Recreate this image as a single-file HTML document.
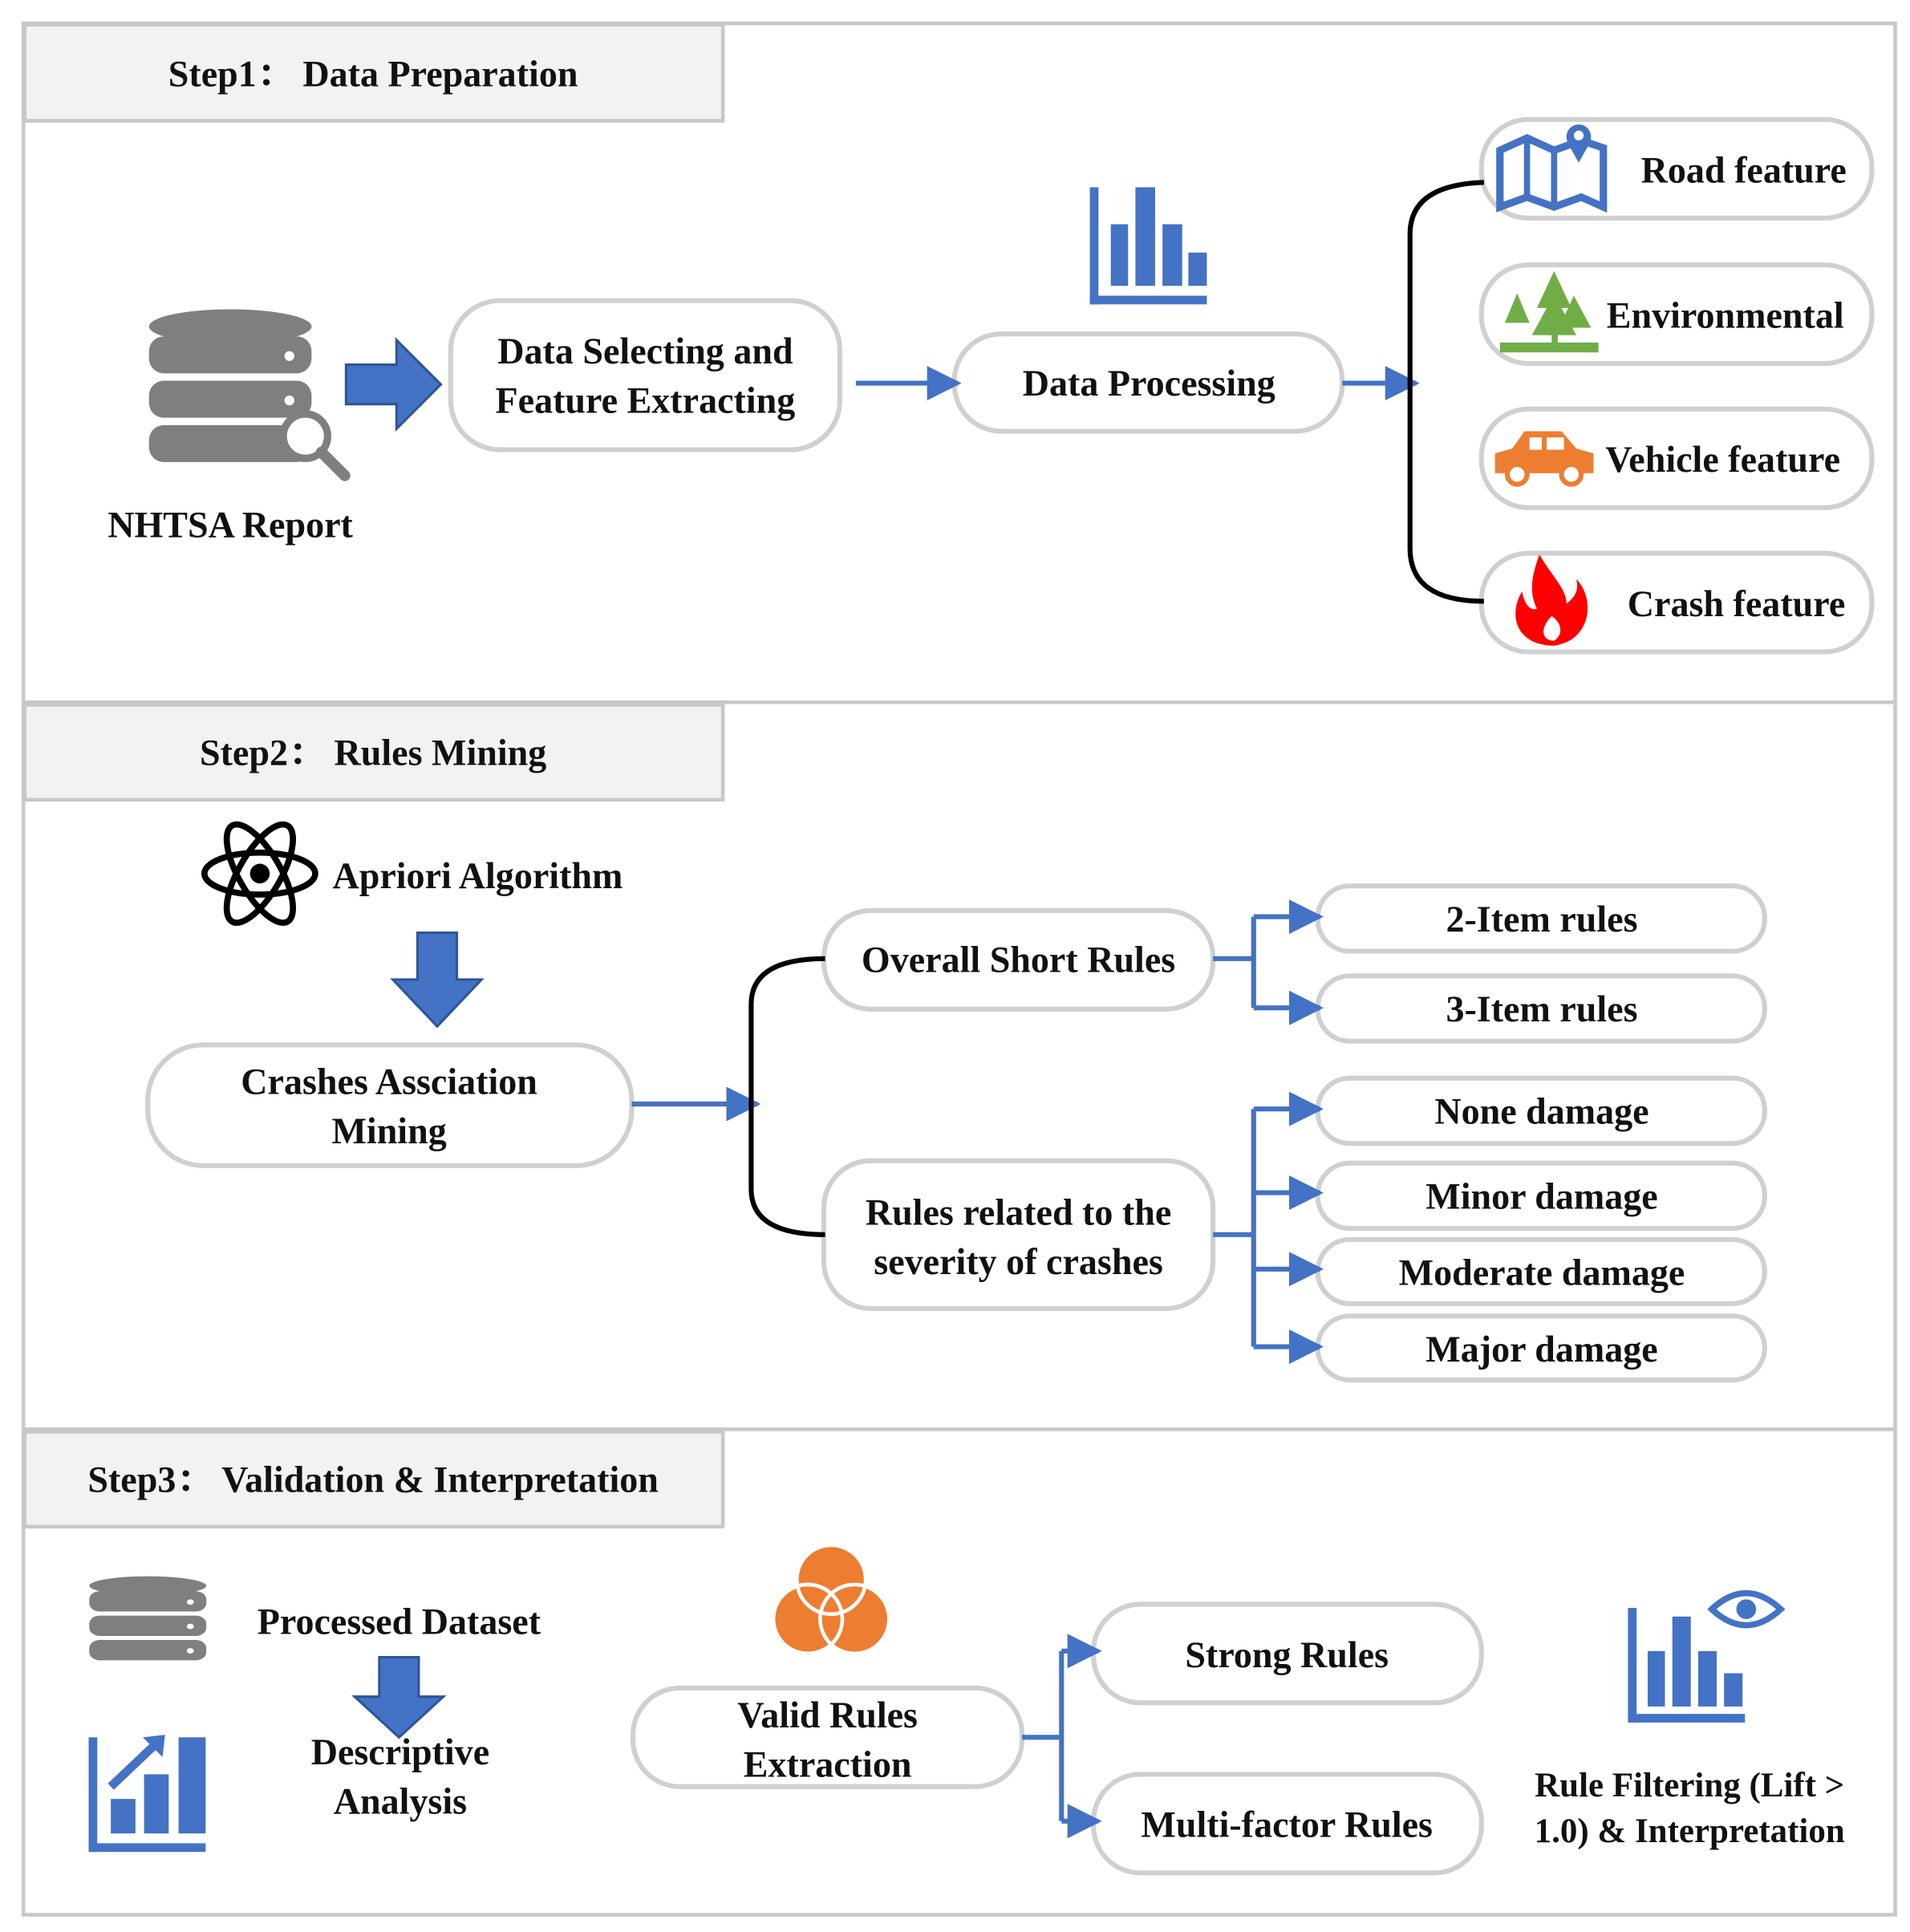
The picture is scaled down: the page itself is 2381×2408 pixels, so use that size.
<!DOCTYPE html>
<html><head><meta charset="utf-8"><style>
html,body{margin:0;padding:0;background:#fff;}
svg{display:block;}
text{font-family:"Liberation Serif","Noto Serif CJK SC",serif;font-weight:bold;fill:#111;}
</style></head><body>
<svg width="2381" height="2408" viewBox="0 0 1551 1568" preserveAspectRatio="none" xmlns="http://www.w3.org/2000/svg">
<defs>
<marker id="ah2" viewBox="0 0 10 10" refX="9" refY="5" markerWidth="28" markerHeight="28" orient="auto" markerUnits="userSpaceOnUse"><path d="M0,0 L10,5 L0,10 z" fill="#4472c4"/></marker>
<g id="db">
<ellipse cx="0" cy="0" rx="66" ry="14" fill="#7f7f7f"/>
<rect x="-66" y="8" width="132" height="30" rx="12" fill="#7f7f7f"/>
<rect x="-66" y="44" width="132" height="30" rx="12" fill="#7f7f7f"/>
<rect x="-66" y="80" width="132" height="30" rx="12" fill="#7f7f7f"/>
<circle cx="48" cy="24" r="4" fill="#fff"/><circle cx="48" cy="60" r="4" fill="#fff"/><circle cx="48" cy="96" r="4" fill="#fff"/>
</g>
</defs>
<g fill="none" stroke="#c8c8c8" stroke-width="3">
<rect x="19" y="19" width="1520" height="1535"/>
<line x1="19" y1="570" x2="1539" y2="570"/>
<line x1="19" y1="1160" x2="1539" y2="1160"/>
</g>
<g fill="#f2f2f2" stroke="#c8c8c8" stroke-width="3">
<rect x="20" y="20" width="567" height="78"/>
<rect x="20" y="572" width="567" height="77"/>
<rect x="20" y="1162" width="567" height="77"/>
</g>
<g font-size="30" text-anchor="middle">
<text x="303" y="70">Step1：  Data Preparation</text>
<text x="303" y="621">Step2：  Rules Mining</text>
<text x="303" y="1211">Step3：  Validation &amp; Interpretation</text>
</g>

<use href="#db" x="187" y="265"/>
<circle cx="248" cy="354" r="18" fill="#fff" stroke="#7f7f7f" stroke-width="6"/>
<line x1="261" y1="367" x2="280" y2="386" stroke="#7f7f7f" stroke-width="9" stroke-linecap="round"/>
<text x="187" y="436" font-size="30" text-anchor="middle">NHTSA Report</text>
<path d="M281,296 L322,296 L322,276 L358,312 L322,348 L322,328 L281,328 z" fill="#4472c4" stroke="#2f5597" stroke-width="2"/>
<g fill="#fff" stroke="#d0d0d0" stroke-width="4">
<rect x="366" y="244" width="316" height="121" rx="40"/>
<rect x="775" y="271" width="315" height="79" rx="38"/>
<rect x="1203" y="97" width="317" height="80" rx="38"/>
<rect x="1203" y="215" width="317" height="80" rx="38"/>
<rect x="1203" y="332" width="317" height="80" rx="38"/>
<rect x="1203" y="449" width="317" height="80" rx="38"/>
</g>
<g font-size="30" text-anchor="middle">
<text x="524" y="295">Data Selecting and</text>
<text x="524" y="335">Feature Extracting</text>
<text x="933" y="321">Data Processing</text>
<text x="1416" y="148">Road feature</text>
<text x="1401" y="266">Environmental</text>
<text x="1399" y="383">Vehicle feature</text>
<text x="1410" y="500">Crash feature</text>
</g>
<line x1="695" y1="311" x2="778" y2="311" stroke="#4472c4" stroke-width="4" marker-end="url(#ah2)"/>
<line x1="1090" y1="311" x2="1150" y2="311" stroke="#4472c4" stroke-width="4" marker-end="url(#ah2)"/>
<g fill="#4472c4"><rect x="885" y="152" width="7" height="95"/><rect x="885" y="240" width="95" height="7"/>
<rect x="902" y="182" width="14" height="50"/><rect x="922" y="152" width="16" height="80"/><rect x="944" y="182" width="16" height="50"/><rect x="965" y="205" width="15" height="27"/></g>
<path d="M1205,148 Q1145,150 1145,190 L1145,445 Q1145,488 1205,488" fill="none" stroke="#000" stroke-width="4"/>
<path d="M1218,122 L1240,112 L1262,122 L1284,114 L1302,120 L1302,168 L1284,160 L1262,168 L1240,160 L1218,168 z" fill="none" stroke="#4472c4" stroke-width="6"/>
<line x1="1240" y1="112" x2="1240" y2="160" stroke="#4472c4" stroke-width="5"/><line x1="1262" y1="122" x2="1262" y2="168" stroke="#4472c4" stroke-width="5"/>
<circle cx="1282" cy="111" r="10" fill="#4472c4"/><path d="M1273,116 L1282,132 L1291,116 z" fill="#4472c4"/><circle cx="1282" cy="110" r="4" fill="#fff"/>
<g fill="#70ad47"><path d="M1262,220 L1248,250 L1256,250 L1244,272 L1280,272 L1268,250 L1276,250 z"/><path d="M1232,238 L1222,262 L1242,262 z"/><path d="M1278,240 L1266,266 L1292,266 z"/><rect x="1218" y="278" width="80" height="8"/><rect x="1260" y="270" width="5" height="10"/></g>
<path d="M1214,384 L1214,368 L1228,364 L1238,350 L1268,350 L1280,364 L1294,368 L1294,384 z" fill="#ed7d31"/>
<rect x="1242" y="355" width="10" height="10" fill="#fff"/><rect x="1256" y="355" width="14" height="10" fill="#fff"/>
<circle cx="1232" cy="385" r="8" fill="#fff" stroke="#ed7d31" stroke-width="4"/><circle cx="1276" cy="385" r="8" fill="#fff" stroke="#ed7d31" stroke-width="4"/>
<path d="M1250,450 C1262,470 1272,478 1272,490 C1280,484 1282,478 1280,470 C1296,486 1292,520 1262,524 C1232,524 1224,500 1236,480 C1238,492 1244,496 1248,494 C1240,478 1246,462 1250,450 z" fill="#ff0000"/>
<path d="M1260,500 C1268,505 1270,515 1262,520 C1252,520 1250,510 1260,500 z" fill="#fff"/>

<g fill="none" stroke="#000" stroke-width="5">
<ellipse cx="211" cy="709" rx="45" ry="17" transform="rotate(60 211 709)"/>
<ellipse cx="211" cy="709" rx="45" ry="17" transform="rotate(-60 211 709)"/>
<ellipse cx="211" cy="709" rx="45" ry="17"/>
</g><circle cx="211" cy="709" r="8" fill="#000"/>
<text x="270" y="721" font-size="30">Apriori Algorithm</text>
<path d="M339,757 L371,757 L371,795 L391,795 L355,833 L319,795 L339,795 z" fill="#4472c4" stroke="#2f5597" stroke-width="2"/>
<g fill="#fff" stroke="#d0d0d0" stroke-width="4">
<rect x="120" y="848" width="393" height="98" rx="45"/>
<rect x="669" y="739" width="316" height="80" rx="38"/>
<rect x="669" y="942" width="316" height="120" rx="38"/>
<rect x="1070" y="719" width="363" height="53" rx="26"/>
<rect x="1070" y="792" width="363" height="53" rx="26"/>
<rect x="1070" y="875" width="363" height="53" rx="26"/>
<rect x="1070" y="944" width="363" height="53" rx="26"/>
<rect x="1070" y="1006" width="363" height="52" rx="26"/>
<rect x="1070" y="1068" width="363" height="52" rx="26"/>
</g>
<g font-size="30" text-anchor="middle">
<text x="316" y="888">Crashes Assciation</text>
<text x="316" y="928">Mining</text>
<text x="827" y="789">Overall Short Rules</text>
<text x="827" y="994">Rules related to the</text>
<text x="827" y="1034">severity of crashes</text>
<text x="1252" y="756">2-Item rules</text>
<text x="1252" y="829">3-Item rules</text>
<text x="1252" y="912">None damage</text>
<text x="1252" y="981">Minor damage</text>
<text x="1252" y="1043">Moderate damage</text>
<text x="1252" y="1105">Major damage</text>
</g>
<line x1="513" y1="896" x2="615" y2="896" stroke="#4472c4" stroke-width="4" marker-end="url(#ah2)"/>
<path d="M670,778 Q610,778 610,815 L610,965 Q610,1002 670,1002" fill="none" stroke="#000" stroke-width="4"/>
<g stroke="#4472c4" stroke-width="4" fill="none">
<path d="M985,778 L1018,778"/><path d="M1018,744 L1018,818"/>
<line x1="1018" y1="744" x2="1072" y2="744" marker-end="url(#ah2)"/>
<line x1="1018" y1="818" x2="1072" y2="818" marker-end="url(#ah2)"/>
<path d="M985,1002 L1018,1002"/><path d="M1018,900 L1018,1093"/>
<line x1="1018" y1="900" x2="1072" y2="900" marker-end="url(#ah2)"/>
<line x1="1018" y1="968" x2="1072" y2="968" marker-end="url(#ah2)"/>
<line x1="1018" y1="1030" x2="1072" y2="1030" marker-end="url(#ah2)"/>
<line x1="1018" y1="1093" x2="1072" y2="1093" marker-end="url(#ah2)"/>
</g>

<g transform="translate(120,1287) scale(0.72,0.55)"><use href="#db"/></g>
<text x="324" y="1326" font-size="30" text-anchor="middle">Processed Dataset</text>
<path d="M308,1345 L340,1345 L340,1377 L360,1377 L324,1410 L288,1377 L308,1377 z" fill="#4472c4" stroke="#2f5597" stroke-width="2"/>
<text x="325" y="1432" font-size="30" text-anchor="middle">Descriptive</text>
<text x="325" y="1472" font-size="30" text-anchor="middle">Analysis</text>
<g fill="#4472c4"><rect x="72" y="1410" width="7" height="93"/><rect x="72" y="1496" width="95" height="7"/>
<rect x="90" y="1460" width="20" height="28"/><rect x="117" y="1440" width="20" height="48"/><rect x="145" y="1410" width="22" height="78"/></g>
<path d="M90,1450 L128,1414" stroke="#4472c4" stroke-width="7"/><path d="M116,1410 L134,1408 L132,1426 z" fill="#4472c4"/>
<g fill="#ed7d31" stroke="#fff" stroke-width="3">
<circle cx="675" cy="1282" r="28"/><circle cx="656" cy="1314" r="28"/><circle cx="694" cy="1314" r="28"/>
</g>
<g fill="none" stroke="#fff" stroke-width="3"><circle cx="675" cy="1282" r="28"/><circle cx="656" cy="1314" r="28"/></g>
<g fill="#fff" stroke="#d0d0d0" stroke-width="4">
<rect x="514" y="1370" width="316" height="80" rx="38"/>
<rect x="888" y="1302" width="315" height="80" rx="38"/>
<rect x="888" y="1440" width="315" height="80" rx="38"/>
</g>
<g font-size="30" text-anchor="middle">
<text x="672" y="1402">Valid Rules</text>
<text x="672" y="1442">Extraction</text>
<text x="1045" y="1353">Strong Rules</text>
<text x="1045" y="1491">Multi-factor Rules</text>
<text x="1372" y="1458" font-size="28">Rule Filtering (Lift &gt;</text>
<text x="1372" y="1495" font-size="28">1.0) &amp; Interpretation</text>
</g>
<g stroke="#4472c4" stroke-width="4" fill="none">
<path d="M830,1410 L862,1410"/><path d="M862,1340 L862,1478"/>
<line x1="862" y1="1340" x2="892" y2="1340" marker-end="url(#ah2)"/>
<line x1="862" y1="1478" x2="892" y2="1478" marker-end="url(#ah2)"/>
</g>
<g fill="#4472c4"><rect x="1322" y="1305" width="7" height="93"/><rect x="1322" y="1391" width="95" height="7"/>
<rect x="1338" y="1340" width="14" height="45"/><rect x="1358" y="1312" width="15" height="73"/><rect x="1379" y="1340" width="15" height="45"/><rect x="1400" y="1358" width="15" height="27"/></g>
<path d="M1390,1306 Q1418,1280 1446,1306 Q1418,1332 1390,1306 z" fill="#fff" stroke="#4472c4" stroke-width="5"/>
<circle cx="1418" cy="1306" r="8" fill="#4472c4"/>
</svg>
</body></html>
